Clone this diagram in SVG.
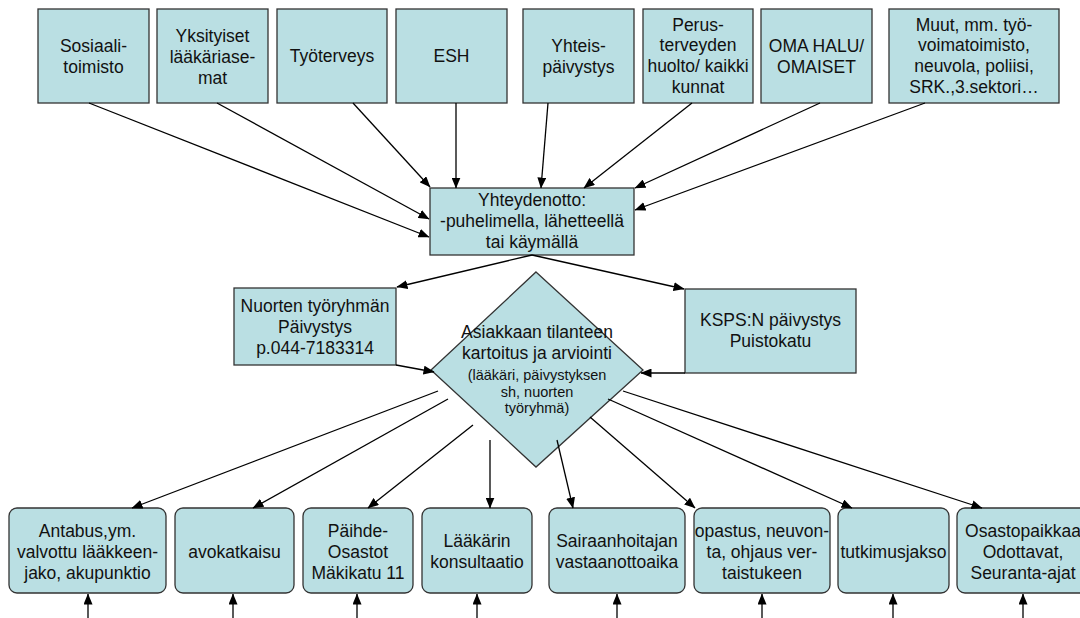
<svg xmlns="http://www.w3.org/2000/svg" width="1080" height="618" viewBox="0 0 1080 618">
<defs>
<marker id="ah" markerUnits="userSpaceOnUse" markerWidth="11" markerHeight="9" refX="10.5" refY="4.5" orient="auto">
<path d="M0,0 L11,4.5 L0,9 z" fill="#000"/>
</marker>
<style>
.box{fill:#BADFE3;stroke:#333;stroke-width:1.3}
.t{font-family:"Liberation Sans",Arial,sans-serif;font-size:17.5px;fill:#111;text-anchor:middle}
.s{font-family:"Liberation Sans",Arial,sans-serif;font-size:14.5px;fill:#111;text-anchor:middle}
.c{stroke:#000;stroke-width:1.3;fill:none;marker-end:url(#ah)}
</style>
</defs>
<rect width="1080" height="618" fill="#fff"/>
<g id="n-sosiaali"><rect class="box" x="38" y="9" width="111" height="94"/><text class="t" x="93.5" y="52">Sosiaali-</text><text class="t" x="93.5" y="73">toimisto</text></g>
<g id="n-yksityiset"><rect class="box" x="157" y="9" width="111" height="94"/><text class="t" x="212.5" y="42">Yksityiset</text><text class="t" x="212.5" y="63">lääkäriase-</text><text class="t" x="212.5" y="84">mat</text></g>
<g id="n-tyoterveys"><rect class="box" x="277" y="9" width="110" height="94"/><text class="t" x="332" y="62">Työterveys</text></g>
<g id="n-esh"><rect class="box" x="396" y="9" width="111" height="94"/><text class="t" x="451.5" y="62">ESH</text></g>
<g id="n-yhteis"><rect class="box" x="523" y="9" width="111" height="94"/><text class="t" x="578.5" y="52">Yhteis-</text><text class="t" x="578.5" y="73">päivystys</text></g>
<g id="n-perus"><rect class="box" x="643" y="9" width="110" height="94"/><text class="t" x="698" y="30.5">Perus-</text><text class="t" x="698" y="51">terveyden</text><text class="t" x="698" y="72">huolto/ kaikki</text><text class="t" x="698" y="92.5">kunnat</text></g>
<g id="n-omahalu"><rect class="box" x="761" y="9" width="111" height="94"/><text class="t" x="816.5" y="52">OMA HALU/</text><text class="t" x="816.5" y="73">OMAISET</text></g>
<g id="n-muut"><rect class="box" x="889" y="9" width="170" height="94"/><text class="t" x="974" y="30.5">Muut, mm. työ-</text><text class="t" x="974" y="51">voimatoimisto,</text><text class="t" x="974" y="72">neuvola, poliisi,</text><text class="t" x="974" y="92.5">SRK.,3.sektori…</text></g>
<g id="n-yhteydenotto"><rect class="box" x="430" y="188" width="204" height="67"/><text class="t" x="532" y="206">Yhteydenotto:</text><text class="t" x="532" y="227">-puhelimella, lähetteellä</text><text class="t" x="532" y="248">tai käymällä</text></g>
<g id="n-nuorten"><rect class="box" x="234" y="288" width="162" height="77"/><text class="t" x="315" y="312">Nuorten työryhmän</text><text class="t" x="315" y="333">Päivystys</text><text class="t" x="315" y="354">p.044-7183314</text></g>
<g id="n-ksps"><rect class="box" x="685" y="289" width="171" height="84"/><text class="t" x="770.5" y="326">KSPS:N päivystys</text><text class="t" x="770.5" y="347">Puistokatu</text></g>
<g id="n-arviointi"><polygon class="box" points="536,272 643,370 536,467 431,370"/><text class="t" x="537" y="338">Asiakkaan tilanteen</text><text class="t" x="537" y="359">kartoitus ja arviointi</text><text class="s" x="537" y="380">(lääkäri, päivystyksen</text><text class="s" x="537" y="397">sh, nuorten</text><text class="s" x="537" y="413">työryhmä)</text></g>
<g id="n-antabus"><rect class="box" x="9" y="508" width="157" height="85" rx="8"/><text class="t" x="87.5" y="537">Antabus,ym.</text><text class="t" x="87.5" y="558">valvottu lääkkeen-</text><text class="t" x="87.5" y="579">jako, akupunktio</text></g>
<g id="n-avokatkaisu"><rect class="box" x="175" y="508" width="119" height="85" rx="8"/><text class="t" x="234.5" y="558">avokatkaisu</text></g>
<g id="n-paihde"><rect class="box" x="303" y="508" width="110" height="85" rx="8"/><text class="t" x="358" y="537">Päihde-</text><text class="t" x="358" y="558">Osastot</text><text class="t" x="358" y="579">Mäkikatu 11</text></g>
<g id="n-laakarin"><rect class="box" x="422" y="508" width="110" height="85" rx="8"/><text class="t" x="477" y="547">Lääkärin</text><text class="t" x="477" y="568">konsultaatio</text></g>
<g id="n-sairaanhoitajan"><rect class="box" x="549" y="508" width="136" height="85" rx="8"/><text class="t" x="617" y="547">Sairaanhoitajan</text><text class="t" x="617" y="568">vastaanottoaika</text></g>
<g id="n-opastus"><rect class="box" x="694" y="508" width="136" height="85" rx="8"/><text class="t" x="762" y="537">opastus, neuvon-</text><text class="t" x="762" y="558">ta, ohjaus ver-</text><text class="t" x="762" y="579">taistukeen</text></g>
<g id="n-tutkimusjakso"><rect class="box" x="838" y="508" width="111" height="85" rx="8"/><text class="t" x="893.5" y="558">tutkimusjakso</text></g>
<g id="n-osastopaikka"><rect class="box" x="957" y="508" width="132" height="85" rx="8"/><text class="t" x="1023" y="537">Osastopaikkaa</text><text class="t" x="1023" y="558">Odottavat,</text><text class="t" x="1023" y="579">Seuranta-ajat</text></g>
<g id="connectors">
<line class="c" x1="89" y1="103" x2="429" y2="237"/>
<line class="c" x1="217" y1="103" x2="429" y2="219"/>
<line class="c" x1="353" y1="103" x2="430" y2="187"/>
<line class="c" x1="456" y1="103" x2="456" y2="188"/>
<line class="c" x1="548" y1="103" x2="541" y2="188"/>
<line class="c" x1="692" y1="103" x2="584" y2="188"/>
<line class="c" x1="820" y1="103" x2="635" y2="188"/>
<line class="c" x1="925" y1="103" x2="635" y2="210"/>
<line class="c" x1="532" y1="255" x2="397" y2="287"/>
<line class="c" x1="532" y1="255" x2="684" y2="289"/>
<line class="c" x1="396" y1="365" x2="434" y2="372"/>
<line class="c" x1="685" y1="373" x2="641" y2="373"/>
<line class="c" x1="438" y1="391" x2="132" y2="508"/>
<line class="c" x1="448" y1="399" x2="253" y2="508"/>
<line class="c" x1="473" y1="425" x2="368" y2="508"/>
<line class="c" x1="490" y1="440" x2="490" y2="508"/>
<line class="c" x1="557" y1="440" x2="573" y2="508"/>
<line class="c" x1="590" y1="417" x2="695" y2="508"/>
<line class="c" x1="608" y1="399" x2="852" y2="508"/>
<line class="c" x1="623" y1="391" x2="982" y2="508"/>
<line class="c" x1="88" y1="618" x2="88" y2="594"/>
<line class="c" x1="233" y1="618" x2="233" y2="594"/>
<line class="c" x1="357" y1="618" x2="357" y2="594"/>
<line class="c" x1="477" y1="618" x2="477" y2="594"/>
<line class="c" x1="617" y1="618" x2="617" y2="594"/>
<line class="c" x1="762" y1="618" x2="762" y2="594"/>
<line class="c" x1="893" y1="618" x2="893" y2="594"/>
<line class="c" x1="1023" y1="618" x2="1023" y2="594"/>
</g>
</svg>
